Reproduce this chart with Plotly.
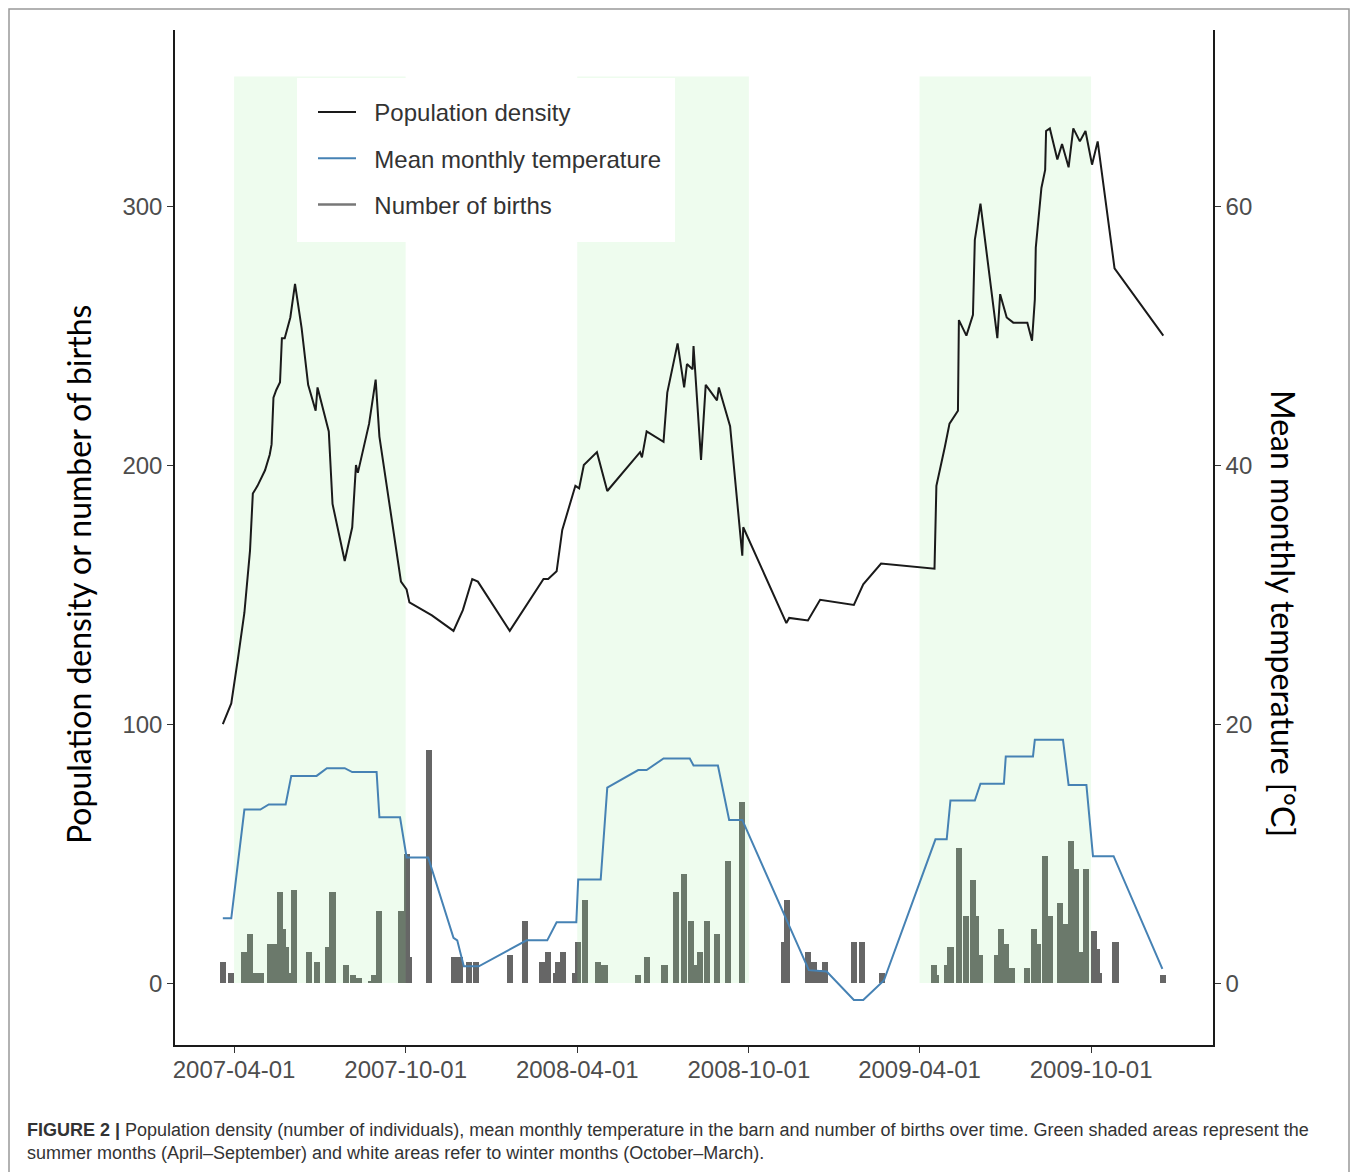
import plotly.graph_objects as go

# ---- Number of births (counts per recording date) ----
birth_dates = [
    "2007-03-20", "2007-03-29", "2007-04-12", "2007-04-18", "2007-04-24", "2007-04-30",
    "2007-05-09", "2007-05-13", "2007-05-20", "2007-05-23", "2007-05-26", "2007-05-30",
    "2007-06-04", "2007-06-20", "2007-06-28", "2007-07-10", "2007-07-15", "2007-07-29",
    "2007-08-06", "2007-08-12", "2007-08-25", "2007-08-28", "2007-09-03", "2007-09-26",
    "2007-10-02", "2007-10-05", "2007-10-26", "2007-11-22", "2007-11-28", "2007-12-08",
    "2007-12-15", "2008-01-20", "2008-02-05", "2008-02-23", "2008-03-01", "2008-03-09",
    "2008-03-11", "2008-03-17", "2008-03-30", "2008-04-02", "2008-04-09", "2008-04-23",
    "2008-04-30", "2008-06-05", "2008-06-14", "2008-07-03", "2008-07-15", "2008-07-24",
    "2008-07-31", "2008-08-04", "2008-08-10", "2008-08-17", "2008-08-28", "2008-09-09",
    "2008-09-24", "2008-11-08", "2008-11-11", "2008-12-03", "2008-12-09", "2008-12-15",
    "2008-12-21", "2009-01-21", "2009-01-30", "2009-02-20", "2009-04-16", "2009-04-18",
    "2009-04-30", "2009-05-04", "2009-05-13", "2009-05-21", "2009-05-28", "2009-05-31",
    "2009-06-04", "2009-06-23", "2009-06-27", "2009-07-02", "2009-07-09", "2009-07-25",
    "2009-08-01", "2009-08-05", "2009-08-13", "2009-08-18", "2009-08-29", "2009-09-03",
    "2009-09-10", "2009-09-15", "2009-09-19", "2009-09-26", "2009-10-04", "2009-10-07",
    "2009-10-09", "2009-10-27", "2009-12-17",
]
birth_counts = [
    8, 4, 12, 19, 4, 4,
    15, 15, 35, 21, 14, 4,
    36, 12, 8, 14, 35, 7,
    3, 2, 1, 3, 28, 28,
    50, 10, 90, 10, 10, 8,
    8, 11, 24, 8, 12, 4,
    8, 12, 4, 16, 32, 8,
    7, 3, 10, 7, 35, 42,
    24, 7, 12, 24, 19, 47,
    70, 16, 32, 12, 8, 5,
    8, 16, 16, 4, 7, 3,
    7, 14, 52, 26, 40, 26,
    11, 11, 21, 15, 6, 6,
    21, 15, 49, 26, 31, 23,
    55, 44, 12, 44, 20, 13,
    4, 16, 3,
]

# ---- Population density (number of individuals) ----
density_dates = [
    "2007-03-20", "2007-03-29", "2007-04-05", "2007-04-12", "2007-04-18", "2007-04-21",
    "2007-04-26", "2007-05-04", "2007-05-09", "2007-05-11", "2007-05-13", "2007-05-16",
    "2007-05-20", "2007-05-22", "2007-05-25", "2007-05-31", "2007-06-05", "2007-06-12",
    "2007-06-19", "2007-06-27", "2007-06-29", "2007-07-05", "2007-07-11", "2007-07-15",
    "2007-07-28", "2007-08-05", "2007-08-09", "2007-08-11", "2007-08-23", "2007-08-30",
    "2007-09-03", "2007-09-26", "2007-10-02", "2007-10-05", "2007-10-25", "2007-10-29",
    "2007-11-21", "2007-12-01", "2007-12-11", "2007-12-17", "2008-01-20", "2008-02-25",
    "2008-03-01", "2008-03-10", "2008-03-16", "2008-03-30", "2008-04-03", "2008-04-08",
    "2008-04-22", "2008-05-03", "2008-06-07", "2008-06-09", "2008-06-14", "2008-07-02",
    "2008-07-06", "2008-07-17", "2008-07-24", "2008-07-27", "2008-08-02", "2008-08-03",
    "2008-08-11", "2008-08-16", "2008-08-28", "2008-08-30", "2008-09-11", "2008-09-24",
    "2008-09-25", "2008-11-10", "2008-11-13", "2008-12-03", "2008-12-16", "2009-01-21",
    "2009-01-31", "2009-02-19", "2009-04-17", "2009-04-19", "2009-04-28", "2009-05-03",
    "2009-05-12", "2009-05-13", "2009-05-21", "2009-05-28", "2009-05-30", "2009-06-05",
    "2009-06-23", "2009-06-26", "2009-07-03", "2009-07-10", "2009-07-25", "2009-07-30",
    "2009-08-02", "2009-08-03", "2009-08-09", "2009-08-13", "2009-08-14", "2009-08-18",
    "2009-08-26", "2009-08-31", "2009-09-07", "2009-09-12", "2009-09-19", "2009-09-25",
    "2009-10-02", "2009-10-08", "2009-10-26", "2009-12-17",
]
density_values = [
    100, 108, 125, 143, 167, 189,
    192, 198, 204, 208, 226, 229,
    232, 249, 249, 257, 270, 253,
    231, 221, 230, 221, 213, 185,
    163, 176, 200, 197, 216, 233,
    211, 155, 152, 147, 143, 142,
    136, 144, 156, 155, 136, 156,
    156, 159, 175, 192, 191, 200,
    205, 190, 205, 203, 213, 209,
    228, 247, 230, 239, 237, 246,
    202, 231, 225, 230, 215, 165,
    176, 139, 141, 140, 148, 146,
    154, 162, 160, 192, 207, 216,
    221, 256, 250, 258, 287, 301,
    249, 266, 257, 255, 255, 248,
    264, 284, 307, 314, 329, 330,
    318, 324, 315, 330, 325, 329,
    316, 325, 276, 250,
]

# ---- Mean monthly temperature in the barn [°C] ----
temp_dates = [
    "2007-03-20", "2007-03-29", "2007-04-12", "2007-04-29", "2007-05-08", "2007-05-26",
    "2007-06-01", "2007-06-28", "2007-07-09", "2007-07-28", "2007-08-05", "2007-08-31",
    "2007-09-03", "2007-09-25", "2007-10-02", "2007-10-25", "2007-11-21", "2007-11-25",
    "2007-12-02", "2007-12-18", "2008-02-07", "2008-02-29", "2008-03-10", "2008-03-31",
    "2008-04-02", "2008-04-26", "2008-05-03", "2008-06-05", "2008-06-14", "2008-07-02",
    "2008-07-30", "2008-08-03", "2008-08-29", "2008-09-10", "2008-09-24", "2008-12-04",
    "2008-12-23", "2009-01-21", "2009-01-31", "2009-02-22", "2009-04-18", "2009-04-30",
    "2009-05-04", "2009-05-30", "2009-06-05", "2009-06-30", "2009-07-02", "2009-07-31",
    "2009-08-02", "2009-09-01", "2009-09-07", "2009-09-26", "2009-10-03", "2009-10-25",
    "2009-12-16",
]
temp_values = [
    5.0, 5.0, 13.4, 13.4, 13.8, 13.8,
    16.0, 16.0, 16.6, 16.6, 16.3, 16.3,
    12.8, 12.8, 9.7, 9.7, 3.5, 3.3,
    1.3, 1.3, 3.3, 3.3, 4.7, 4.7,
    8.0, 8.0, 15.1, 16.45, 16.45, 17.35,
    17.35, 16.8, 16.8, 12.6, 12.6, 1.0,
    0.9, -1.3, -1.3, 0.2, 11.1, 11.1,
    14.1, 14.1, 15.4, 15.4, 17.5, 17.5,
    18.8, 18.8, 15.3, 15.3, 9.8, 9.8,
    1.1,
]

# ---- Summer periods (April–September) ----
summer_start = ["2007-04-01", "2008-04-01", "2009-04-01"]
summer_end = ["2007-10-01", "2008-10-01", "2009-10-01"]
SHADE_TOP = 350

# ---- Axis ticks ----
x_tick_vals = ["2007-04-01", "2007-10-01", "2008-04-01", "2008-10-01", "2009-04-01", "2009-10-01"]
x_tick_text = ["2007-04-01", "2007-10-01", "2008-04-01", "2008-10-01", "2009-04-01", "2009-10-01"]
left_ticks = [0, 100, 200, 300]
right_ticks = [0, 20, 40, 60]

Y_RANGE = [-23.9, 368]
TEMP_SCALE = 5  # left-axis units per °C
X_RANGE = ["2007-01-28", "2010-02-08"]

DAY_MS = 86400000
SANS = "Liberation Sans, Arial, sans-serif"
TICK_FONT = dict(family=SANS, size=24, color="#4d4d4d")
TITLE_FONT = "Lato, Carlito, Calibri, sans-serif"
PAD = "\u00a0\u00a0"  # gap between legend key and label

fig = go.Figure()

fig.add_trace(go.Bar(
    x=birth_dates, y=birth_counts, width=6.5 * DAY_MS,
    marker=dict(color="#666666", line=dict(width=0)),
    showlegend=False, name="Number of births",
))

# translucent green bands drawn over the bars, under the lines
for s, e in zip(summer_start, summer_end):
    fig.add_trace(go.Scatter(
        x=[s, e, e, s, s], y=[0, 0, SHADE_TOP, SHADE_TOP, 0],
        mode="lines", fill="toself", fillcolor="rgba(144,238,144,0.15)",
        line=dict(width=0), showlegend=False, hoverinfo="skip",
    ))

fig.add_trace(go.Scatter(
    x=density_dates, y=density_values, mode="lines",
    line=dict(color="#1a1a1a", width=2), name=PAD + "Population density", legendgroup="g1",
))
fig.add_trace(go.Scatter(
    x=temp_dates, y=temp_values, mode="lines", yaxis="y2",
    line=dict(color="#4682B4", width=2), name=PAD + "Mean monthly temperature", legendgroup="g2",
))
# legend key for the births bars
fig.add_trace(go.Scatter(
    x=[None], y=[None], mode="lines",
    line=dict(color="#777777", width=2.5), name=PAD + "Number of births", legendgroup="g3",
))

W, H = 1358, 1172
ML, MR, MT, MB = 175, 145, 30, 127
PW, PH = W - ML - MR, H - MT - MB


def px_x(p):
    return (p - ML) / PW


def px_y(p):
    return (H - MB - p) / PH


fig.update_layout(
    width=W, height=H,
    margin=dict(l=ML, r=MR, t=MT, b=MB),
    paper_bgcolor="white", plot_bgcolor="white",
    barmode="overlay", bargap=0,
    font=dict(family=SANS, color="#222222"),
    xaxis=dict(
        type="date", range=X_RANGE, tickvals=x_tick_vals, ticktext=x_tick_text,
        showline=True, linecolor="#1a1a1a", linewidth=1.5, ticks="outside",
        ticklen=6, tickwidth=1.2, tickcolor="#333333", tickfont=TICK_FONT,
        ticklabelstandoff=-4, showgrid=False, zeroline=False,
    ),
    yaxis=dict(
        range=Y_RANGE, tickvals=left_ticks, showline=True, linecolor="#1a1a1a",
        linewidth=1.5, ticks="outside", ticklen=6, tickwidth=1.2, tickcolor="#333333",
        tickfont=TICK_FONT, showgrid=False, zeroline=False,
    ),
    yaxis2=dict(
        range=[v / TEMP_SCALE for v in Y_RANGE], tickvals=right_ticks, overlaying="y",
        side="right", showline=True, linecolor="#1a1a1a", linewidth=1.5,
        ticks="outside", ticklen=6, tickwidth=1.2, tickcolor="#333333",
        tickfont=TICK_FONT, showgrid=False, zeroline=False,
    ),
    legend=dict(
        x=px_x(313), y=px_y(90), xanchor="left", yanchor="top",
        bgcolor="rgba(0,0,0,0)", borderwidth=0, traceorder="grouped", tracegroupgap=12,
        font=dict(family=SANS, size=24, color="#333333"),
        itemwidth=38,
    ),
    showlegend=True,
)

# white panel behind the legend
fig.add_shape(
    type="rect", xref="paper", yref="paper",
    x0=px_x(297), x1=px_x(675), y0=px_y(242), y1=px_y(78),
    line=dict(width=0), fillcolor="white", layer="above",
)

fig.add_annotation(
    text="Population density or number of births", textangle=-90,
    xref="paper", yref="paper", x=px_x(78), y=px_y(575),
    xanchor="center", yanchor="middle",
    showarrow=False, font=dict(family=TITLE_FONT, size=32, color="#000000"),
)
fig.add_annotation(
    text="Mean monthly temperature [°C]", textangle=90,
    xref="paper", yref="paper", x=px_x(1283), y=px_y(613),
    xanchor="center", yanchor="middle",
    showarrow=False, font=dict(family=TITLE_FONT, size=32, color="#000000"),
)
fig.add_annotation(
    text=("<b>FIGURE 2 |</b> Population density (number of individuals), mean monthly temperature "
          "in the barn and number of births over time. Green shaded areas represent the<br>"
          "summer months (April–September) and white areas refer to winter months (October–March)."),
    xref="paper", yref="paper", x=px_x(25), y=px_y(1118), xanchor="left", yanchor="top",
    align="left", showarrow=False,
    font=dict(family=SANS, size=18, color="#333333"),
)

# outer frame around the figure and caption
fig.add_shape(
    type="rect", xref="paper", yref="paper",
    x0=px_x(9), x1=px_x(1349), y0=px_y(1185), y1=px_y(9),
    line=dict(color="#999999", width=1.5), fillcolor="rgba(0,0,0,0)", layer="below",
)

fig.write_html("out.html")
